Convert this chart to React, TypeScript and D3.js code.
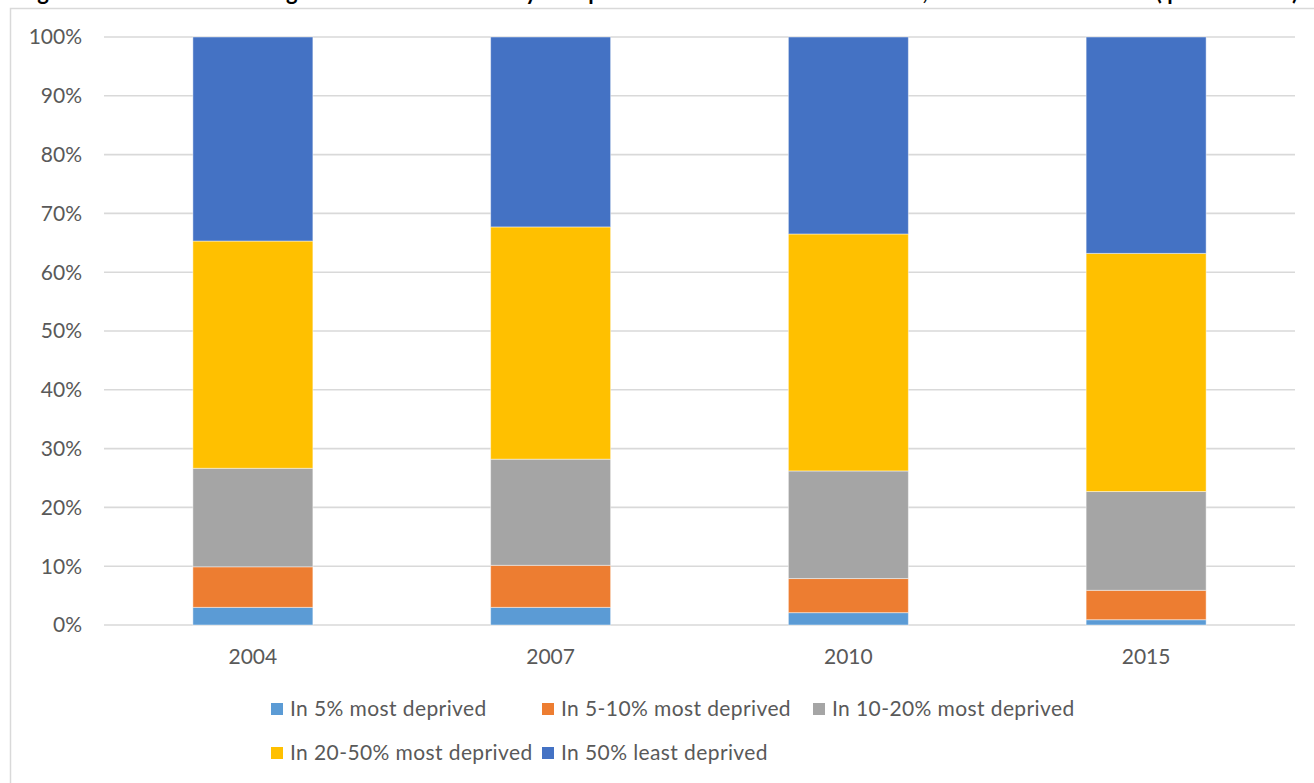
import React from "react";
import * as d3 from "d3";

// Shares of pupils by deprivation band of the area they live in (per cent)
const years = ["2004", "2007", "2010", "2015"];
const seriesNames = [
  "In 5% most deprived",
  "In 5-10% most deprived",
  "In 10-20% most deprived",
  "In 20-50% most deprived",
  "In 50% least deprived",
];
const most5 = [3.0, 3.0, 2.1, 0.9];
const most5to10 = [6.9, 7.15, 5.8, 5.0];
const most10to20 = [16.75, 18.05, 18.3, 16.8];
const most20to50 = [38.65, 39.5, 40.3, 40.5];
const least50 = [34.7, 32.3, 33.5, 36.8];
const yTicks = [0, 10, 20, 30, 40, 50, 60, 70, 80, 90, 100];
const colors = ["#5B9BD5", "#ED7D31", "#A5A5A5", "#FFC000", "#4472C4"];
const titleText =
  "Figure 3: Percentage of children by deprivation of local area, 2004 to 2015 (per cent)";

const W = 1314;
const H = 783;
const FONT = "Lato, 'Open Sans', sans-serif";

export default function App() {
  const values = [most5, most5to10, most10to20, most20to50, least50];
  const rows = years.map((year, i) => {
    const r: Record<string, number | string> = { year };
    seriesNames.forEach((s, k) => (r[s] = values[k][i]));
    return r;
  });
  const stacked = d3.stack<Record<string, number | string>>().keys(seriesNames)(rows as any);

  const x = d3
    .scaleBand<string>()
    .domain(years)
    .range([104, 1295])
    .paddingInner(0.597)
    .paddingOuter(0.2985);
  const y = d3.scaleLinear().domain([0, 100]).range([625, 37]);

  // legend: three columns, wrapping to a second row
  const legendCols = [271, 542, 813];
  const legendRows = [709, 753];

  return (
    <svg
      width={W}
      height={H}
      style={{ position: "absolute", left: 0, top: 0, background: "#fff" }}
      fontFamily={FONT}
    >
      {/* figure heading sits above the frame, mostly outside the page */}
      <text
        x={8}
        y={0}
        fontSize={22}
        fontWeight="bold"
        fill="#000"
        textLength={1290}
        lengthAdjust="spacing"
      >
        {titleText}
      </text>
      <path d={`M10.5,${H + 2} V8.5 H${W + 2}`} fill="none" stroke="#D9D9D9" strokeWidth={1.5} />

      {yTicks.map((t) => (
        <g key={t}>
          <line x1={104} x2={1295} y1={y(t)} y2={y(t)} stroke="#D9D9D9" strokeWidth={1.6} />
          <text
            x={82}
            y={y(t)}
            dy="0.35em"
            textAnchor="end"
            fontSize={21}
            fill="#595959"
          >
            {`${t}%`}
          </text>
        </g>
      ))}

      {stacked.map((layer, k) => (
        <g key={layer.key} fill={colors[k]}>
          {layer.map((d, i) => (
            <rect
              key={years[i]}
              x={x(years[i])!}
              y={y(d[1])}
              width={x.bandwidth()}
              height={y(d[0]) - y(d[1])}
              stroke="#ffffff"
              strokeOpacity={0.45}
              strokeWidth={1}
            />
          ))}
        </g>
      ))}

      {years.map((yr) => (
        <text
          key={yr}
          x={x(yr)! + x.bandwidth() / 2}
          y={664}
          textAnchor="middle"
          fontSize={21}
          fill="#595959"
        >
          {yr}
        </text>
      ))}

      {seriesNames.map((name, k) => {
        const col = k % 3;
        const row = Math.floor(k / 3);
        const lx = legendCols[col];
        const ly = legendRows[row];
        return (
          <g key={name}>
            <rect x={lx} y={ly - 6} width={12} height={12} fill={colors[k]} />
            <text
              x={lx + 19}
              y={ly}
              dy="0.35em"
              fontSize={21}
              letterSpacing={0.4}
              fill="#595959"
            >
              {name}
            </text>
          </g>
        );
      })}
    </svg>
  );
}
